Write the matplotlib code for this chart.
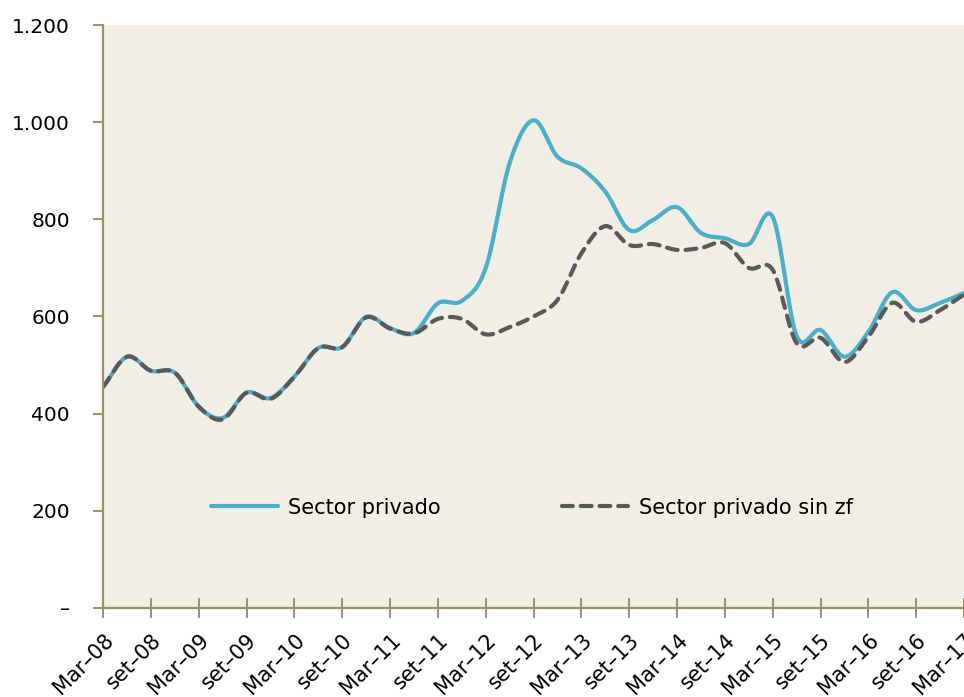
import numpy as np
import matplotlib
matplotlib.use("Agg")
import matplotlib.pyplot as plt
from matplotlib.ticker import FuncFormatter

plt.rcParams["font.family"] = ["DejaVu Sans"]

# quarterly values, Mar-08 .. Mar-17
privado = [455, 517, 488, 484, 414, 391, 443, 432, 476, 535, 537, 599, 576,
           566, 627, 632, 700, 916, 1004, 929, 905, 857, 778, 799, 825, 772,
           761, 749, 805, 560, 572, 517, 568, 650, 613, 628, 648]
privado_sin_zf = [455, 517, 488, 484, 414, 388, 443, 430, 476, 535, 537, 598,
                  575, 565, 595, 595, 563, 578, 600, 634, 730, 786, 747, 749,
                  737, 741, 751, 700, 696, 545, 556, 506, 558, 628, 589, 613, 645]
tick_labels = ["Mar–08", "set–08", "Mar–09", "set–09", "Mar–10", "set–10",
               "Mar–11", "set–11", "Mar–12", "set–12", "Mar–13", "set–13",
               "Mar–14", "set–14", "Mar–15", "set–15", "Mar–16", "set–16",
               "Mar–17"]

BLUE = "#4bafc8"
GREY = "#595959"
AXC = "#9c9160"
BG = "#f1eee6"


def smooth(y, n=20):
    """Catmull-Rom curve through the points (like Excel smoothed lines)."""
    y = np.asarray(y, float)
    x = np.arange(len(y), dtype=float)
    px = np.concatenate([[2 * x[0] - x[1]], x, [2 * x[-1] - x[-2]]])
    py = np.concatenate([[2 * y[0] - y[1]], y, [2 * y[-1] - y[-2]]])
    xs, ys = [], []
    t = np.linspace(0, 1, n, endpoint=False)
    for i in range(1, len(px) - 2):
        for arr, out in ((px, xs), (py, ys)):
            p0, p1, p2, p3 = arr[i - 1:i + 3]
            out.append(0.5 * ((2 * p1) + (-p0 + p2) * t
                              + (2 * p0 - 5 * p1 + 4 * p2 - p3) * t ** 2
                              + (-p0 + 3 * p1 - 3 * p2 + p3) * t ** 3))
    xs = np.concatenate(xs + [[x[-1]]])
    ys = np.concatenate(ys + [[y[-1]]])
    return xs, ys


fig = plt.figure(figsize=(9.64, 6.97), dpi=100)
ax = fig.add_axes([0.107, 0.128, 0.893, 0.836])
ax.set_facecolor(BG)

x1, y1 = smooth(privado)
x2, y2 = smooth(privado_sin_zf)
ax.plot(x1, y1, color=BLUE, lw=3.0, label="Sector privado", solid_capstyle="round")
ax.plot(x2, y2, color=GREY, lw=3.0, dashes=(2.6, 1.9), dash_capstyle="round",
        label="Sector privado sin zf")

ax.set_xlim(0, len(privado) - 1)
ax.set_ylim(0, 1200)
ax.set_yticks(range(0, 1201, 200))
ax.yaxis.set_major_formatter(FuncFormatter(
    lambda v, p: "–" if v == 0 else f"{int(v):,}".replace(",", ".")))
ax.set_xticks(range(0, len(privado), 2))
ax.set_xticklabels(tick_labels, rotation=45, ha="right", rotation_mode="anchor")

for s in ["top", "right"]:
    ax.spines[s].set_visible(False)
for s in ["left", "bottom"]:
    ax.spines[s].set_color(AXC)
    ax.spines[s].set_linewidth(1.6)
ax.tick_params(axis="y", direction="out", length=7, width=1.4, color=AXC,
               labelsize=14.5, pad=17)
ax.tick_params(axis="x", direction="inout", length=14, width=1.4, color=AXC,
               labelsize=15, pad=9)

leg = ax.legend(loc="center", bbox_to_anchor=(0.498, 0.172), ncol=2, frameon=False,
                fontsize=15, handlelength=3.2, columnspacing=5.8, handletextpad=0.5)

fig.savefig("out.png", dpi=100)
